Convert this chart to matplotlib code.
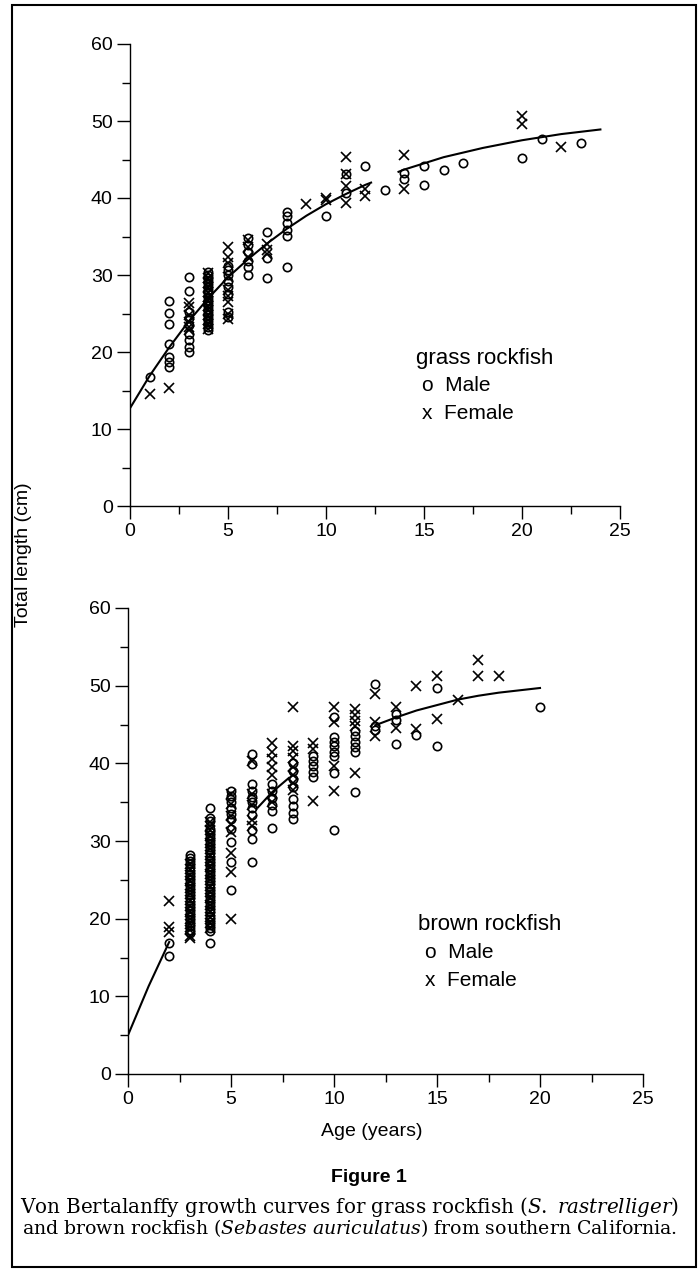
import numpy as np
import matplotlib
matplotlib.use("Agg")
import matplotlib.pyplot as plt
from matplotlib.patches import Rectangle

plt.rcParams['font.family'] = ['Liberation Sans', 'DejaVu Sans']
plt.rcParams['mathtext.fontset'] = 'custom'
plt.rcParams['mathtext.rm'] = 'DejaVu Serif'
plt.rcParams['mathtext.it'] = 'DejaVu Serif:italic'

# ---------------------------------------------------------
# Data (age in years, total length in cm)
# ---------------------------------------------------------
grass_ages = [1, 2, 3, 4, 5, 6, 7, 8, 9, 10, 11, 12, 13, 14, 15, 16, 17, 20, 21, 22, 23]
grass_male = [
    [16.7],
    [26.6, 25.1, 23.6, 21.0, 19.3, 18.7, 18.1],
    [29.8, 27.9, 25.2, 24.4, 23.5, 22.4, 21.6, 20.7, 20.0],
    [30.4, 30.0, 29.6, 29.2, 28.8, 28.4, 28.0, 27.6, 27.2, 26.8, 26.4, 26.0, 25.6,
     25.2, 24.8, 24.4, 24.0, 23.6, 23.2, 22.8],
    [31.2, 30.6, 30.0, 29.2, 28.5, 27.5, 25.2, 24.6],
    [34.8, 33.9, 33.0, 31.8, 31.1, 30.0],
    [35.6, 32.2, 29.6],
    [38.2, 37.6, 36.7, 35.8, 35.1, 31.0],
    [],
    [37.6],
    [43.1, 40.6],
    [44.2],
    [41.0],
    [43.3, 42.5],
    [44.2, 41.7],
    [43.7],
    [44.6],
    [45.2],
    [47.6],
    [],
    [47.1],
]
grass_female = [
    [14.5],
    [15.3],
    [26.4, 25.8, 24.8, 23.9, 23.2, 22.8],
    [30.2, 29.6, 29.0, 28.4, 27.8, 27.2, 26.6, 26.0, 25.4, 24.8, 24.2, 23.6, 23.0],
    [33.7, 32.4, 31.5, 29.8, 28.0, 27.3, 26.5, 25.0, 24.3],
    [34.5, 33.6, 32.3],
    [34.0, 33.3, 32.7],
    [],
    [39.2],
    [40.0, 39.8],
    [45.3, 43.1, 41.5, 39.3],
    [41.2, 40.2],
    [],
    [45.6, 41.2],
    [],
    [],
    [],
    [50.6, 49.6],
    [],
    [46.6],
    [],
]
grass_curve_age = [0, 1, 2, 3, 4, 5, 6, 7, 8, 9, 10, 11, 12, 12.3, 13, 13.7,
                   14, 15, 16, 17, 18, 19, 20, 21, 22, 23, 24]
grass_curve_len = [12.7, 16.9, 20.6, 24.0, 27.0, 29.7, 32.0, 34.1, 36.0, 37.7, 39.2,
                   40.5, 41.7, 42.0, np.nan, 43.4, 43.7, 44.5, 45.3, 45.9, 46.5,
                   47.0, 47.5, 47.9, 48.3, 48.6, 48.9]

brown_ages = [2, 3, 4, 5, 6, 7, 8, 9, 10, 11, 12, 13, 14, 15, 16, 17, 18, 20]
brown_male = [
    [16.9, 15.2],
    [28.2, 27.8, 27.4, 27.0, 26.6, 26.2, 25.8, 25.4, 25.0, 24.6, 24.2, 23.8, 23.4,
     23.0, 22.6, 22.2, 21.8, 21.4, 21.0, 20.6, 20.2, 19.8, 19.4, 19.0, 18.6, 18.2],
    [34.2, 33.0, 32.6, 31.6, 31.2, 30.8, 30.4, 30.0, 29.6, 29.2, 28.8, 28.4, 28.0,
     27.6, 27.2, 26.8, 26.4, 26.0, 25.6, 25.2, 24.8, 24.4, 24.0, 23.6, 23.2, 22.8,
     22.4, 22.0, 21.6, 21.2, 20.8, 20.4, 20.0, 19.6, 19.2, 18.8, 18.4, 16.9],
    [36.5, 35.8, 35.0, 34.3, 33.5, 32.8, 31.6, 29.9, 27.3, 23.7],
    [41.2, 39.9, 37.4, 36.5, 35.7, 35.0, 34.2, 33.4, 31.4, 30.2, 27.3],
    [37.4, 36.5, 35.6, 34.6, 33.8, 31.7],
    [40.0, 39.0, 38.0, 37.0, 35.4, 34.5, 33.6, 32.8],
    [41.0, 40.3, 39.6, 38.9, 38.3],
    [46.0, 43.4, 42.8, 42.2, 41.5, 41.0, 38.8, 31.4],
    [44.2, 43.5, 42.8, 42.1, 41.5, 36.3],
    [50.2, 44.8, 44.3],
    [46.3, 45.6, 42.5],
    [43.6],
    [49.7, 42.2],
    [],
    [],
    [],
    [47.3],
]
brown_female = [
    [22.3, 18.9, 18.3],
    [27.1, 26.4, 25.6, 24.8, 24.0, 23.2, 22.4, 21.6, 20.8, 20.0, 19.3, 18.5, 17.8, 17.5],
    [32.4, 31.9, 31.4, 30.6, 29.8, 29.0, 28.2, 27.4, 26.6, 25.8, 25.0, 24.2, 23.4,
     22.6, 21.8, 21.0, 20.2, 19.4, 18.8],
    [36.0, 34.7, 33.2, 32.2, 31.2, 28.4, 26.0, 19.9],
    [40.3, 36.0, 34.6, 32.7, 31.9],
    [42.6, 41.5, 40.5, 39.5, 38.5, 36.0, 35.0],
    [47.3, 42.2, 41.6, 40.7, 39.5, 38.5, 37.5, 36.6],
    [42.6, 41.9, 35.2],
    [47.3, 45.3, 39.6, 36.4],
    [47.0, 46.2, 45.5, 44.8, 38.8],
    [48.9, 45.3, 43.5],
    [47.3, 44.6],
    [49.9, 44.4],
    [51.3, 45.7],
    [48.2],
    [53.3, 51.2],
    [51.2],
    [],
]
brown_curve_age = [0, 1, 2, 4, 6.3, 7, 7.8, 10, 12, 13, 14, 15, 16, 17, 18, 19, 20]
brown_curve_len = [5.0, 11.3, 17.0, np.nan, 34.3, 36.3, 38.1, np.nan, 44.9, 45.9,
                   46.8, 47.5, 48.2, 48.7, 49.1, 49.4, 49.7]

caption_1 = ['Von Bertalanffy growth curves for grass rockfish (',
             r'$\mathit{S.\ rastrelliger}$', ')']
caption_2 = ['and brown rockfish (', r'$\mathit{Sebastes\ auriculatus}$',
             ') from southern California.']

# ---------------------------------------------------------
# Figure
# ---------------------------------------------------------
W, H = 698, 1274
fig = plt.figure(figsize=(W / 100, H / 100), dpi=100)


def box(l, t, r, b):
    return [l / W, 1 - b / H, (r - l) / W, (b - t) / H]


def expand(ages, groups):
    x = [a for a, g in zip(ages, groups) for _ in g]
    y = [v for g in groups for v in g]
    return x, y


def panel(ax, ages, male, female, c_age, c_len, name, key_x):
    ax.plot(c_age, c_len, color='black', lw=1.5, zorder=2)
    mx, my = expand(ages, male)
    fx, fy = expand(ages, female)
    ax.plot(mx, my, 'o', ms=6, mfc='none', mec='black', mew=1.2, zorder=3, clip_on=False)
    ax.plot(fx, fy, 'x', ms=6.5, mec='black', mew=1.2, zorder=3, clip_on=False)
    ax.set_xlim(0, 25)
    ax.set_ylim(0, 60)
    ax.set_xticks(range(0, 26, 5))
    ax.set_xticks(np.arange(2.5, 25, 5), minor=True)
    ax.set_yticks(range(0, 61, 10))
    ax.set_yticks(range(5, 60, 10), minor=True)
    for s in ['top', 'right']:
        ax.spines[s].set_visible(False)
    for s in ['left', 'bottom']:
        ax.spines[s].set_linewidth(1.0)
    ax.tick_params(which='major', direction='out', length=9.5, width=1.0,
                   labelsize=14, pad=3)
    ax.tick_params(which='minor', direction='out', length=6, width=1.0)
    # hand placed key
    ax.text(key_x, 19.2, name, fontsize=16, va='center')
    ax.text(key_x + 0.3, 15.6, 'o  Male', fontsize=15, va='center')
    ax.text(key_x + 0.3, 12.0, 'x  Female', fontsize=15, va='center')


ax1 = fig.add_axes(box(130, 44, 620, 506))
panel(ax1, grass_ages, grass_male, grass_female,
      grass_curve_age, grass_curve_len, 'grass rockfish', 14.6)

ax2 = fig.add_axes(box(128, 608, 643, 1074))
panel(ax2, brown_ages, brown_male, brown_female,
      brown_curve_age, brown_curve_len, 'brown rockfish', 14.1)

fig.text(24 / W, 1 - 555 / H, 'Total length (cm)', rotation=90, fontsize=14,
         ha='center', va='center')
fig.text(372 / W, 1 - 1132 / H, 'Age (years)', fontsize=14, ha='center', va='center')
fig.text(369 / W, 1 - 1178 / H, 'Figure 1', fontsize=14, fontweight='bold',
         ha='center', va='center')

# caption, fitted to the width of the printed one
renderer = fig.canvas.get_renderer()
for line, yy, target in [(caption_1, 1207, 660), (caption_2, 1228, 653)]:
    t = fig.text(350 / W, 1 - yy / H, ''.join(line), family='DejaVu Serif',
                 fontsize=12, ha='center', va='center')
    w = t.get_window_extent(renderer).width
    t.set_fontsize(12 * target / w)

fig.add_artist(Rectangle((12 / W, 1 - 1267 / H), (696 - 12) / W, (1267 - 5) / H,
                         transform=fig.transFigure, fill=False, lw=1.5, ec='black'))

fig.savefig('out.png', dpi=100)
